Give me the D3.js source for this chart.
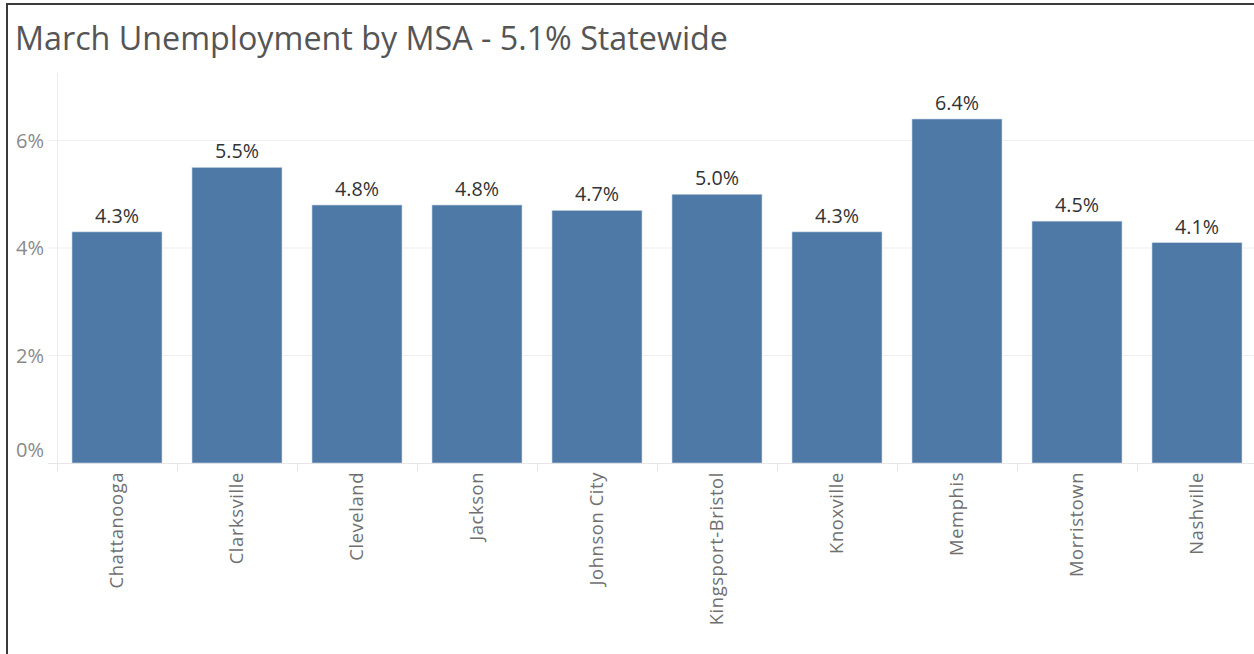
<!DOCTYPE html>
<html>
<head>
<meta charset="utf-8">
<script src="https://cdn.jsdelivr.net/npm/d3@7"></script>
<style>
  html, body { margin: 0; padding: 0; background: #fff; }
  svg { display: block; }
</style>
</head>
<body>
<svg id="chart" width="1254" height="654"></svg>
<script>
const titleText = "March Unemployment by MSA - 5.1% Statewide";
const categories = ["Chattanooga", "Clarksville", "Cleveland", "Jackson", "Johnson City",
  "Kingsport-Bristol", "Knoxville", "Memphis", "Morristown", "Nashville"];
const values = [4.3, 5.5, 4.8, 4.8, 4.7, 5.0, 4.3, 6.4, 4.5, 4.1];
const yTicks = [0, 2, 4, 6];

const svg = d3.select("#chart");
const font = "'Open Sans', 'Noto Sans', sans-serif";

// frame (right/bottom edges cut off)
svg.append("rect")
  .attr("x", 7).attr("y", 4).attr("width", 1300).attr("height", 700)
  .attr("fill", "none").attr("stroke", "#3a3a3a").attr("stroke-width", 2);

// measure helper: font size giving a target width for sample text
function sizeFor(text, target, ls) {
  const t = svg.append("text").attr("font-family", font).attr("font-size", 20)
    .attr("letter-spacing", ls || 0).text(text);
  const w = t.node().getComputedTextLength();
  t.remove();
  return (20 * target / w).toFixed(2);
}

// title
svg.append("text")
  .attr("x", 15).attr("y", 50)
  .attr("font-family", font).attr("font-size", sizeFor(titleText, 713))
  .attr("fill", "#555").text(titleText);

const plotLeft = 57, plotTop = 73, plotBottom = 463;
const x = d3.scaleBand().domain(categories).range([plotLeft, plotLeft + 1200]).paddingInner(0.25).paddingOuter(0.125);
const y = d3.scaleLinear().domain([0, 7.256]).range([plotBottom, plotTop]);

// gridlines
svg.append("g").selectAll("line").data(yTicks.filter(d => d > 0)).join("line")
  .attr("x1", 48).attr("x2", 1254)
  .attr("y1", d => y(d)).attr("y2", d => y(d))
  .attr("stroke", "#efefef").attr("stroke-width", 1);

// y axis vertical line
svg.append("line")
  .attr("x1", plotLeft + 0.5).attr("x2", plotLeft + 0.5)
  .attr("y1", plotTop).attr("y2", plotBottom + 8)
  .attr("stroke", "#ececec");

// baseline
svg.append("line")
  .attr("x1", 48).attr("x2", 1254)
  .attr("y1", plotBottom + 0.5).attr("y2", plotBottom + 0.5)
  .attr("stroke", "#e6e6e6");

// column ticks
const step = x.step();
svg.append("g").selectAll("line").data(categories).join("line")
  .attr("x1", d => x(d) - x.paddingOuter() * step + 0.5)
  .attr("x2", d => x(d) - x.paddingOuter() * step + 0.5)
  .attr("y1", plotBottom).attr("y2", plotBottom + 8)
  .attr("stroke", "#e6e6e6");

// y tick labels
const yFs = sizeFor("6%", 28);
svg.append("g").selectAll("text").data(yTicks).join("text")
  .attr("x", 44)
  .attr("y", d => d === 0 ? y(d) - 13 : y(d))
  .attr("dy", "0.35em")
  .attr("text-anchor", "end")
  .attr("font-family", font).attr("font-size", yFs)
  .attr("fill", "#8a8a8a")
  .text(d => d + "%");

// bars
svg.append("g").selectAll("rect").data(values).join("rect")
  .attr("x", (d, i) => x(categories[i]))
  .attr("y", d => y(d))
  .attr("width", x.bandwidth())
  .attr("height", d => plotBottom - y(d))
  .attr("fill", "#4e79a7")
  .attr("stroke", "#c9d6e6").attr("stroke-width", 0.6);

// value labels
const vFs = sizeFor("4.3%", 44);
svg.append("g").selectAll("text").data(values).join("text")
  .attr("x", (d, i) => x(categories[i]) + x.bandwidth() / 2)
  .attr("y", d => y(d) - 9)
  .attr("text-anchor", "middle")
  .attr("font-family", font).attr("font-size", vFs)
  .attr("fill", "#333")
  .text(d => d.toFixed(1) + "%");

// x labels rotated
const xFs = sizeFor("Chattanooga", 116, 0.6);
svg.append("g").selectAll("text").data(categories).join("text")
  .attr("transform", d => `translate(${x(d) + x.bandwidth() / 2},472) rotate(-90)`)
  .attr("dy", "0.35em")
  .attr("text-anchor", "end")
  .attr("font-family", font).attr("font-size", xFs)
  .attr("fill", "#707070")
  .attr("letter-spacing", 0.6)
  .text(d => d);
</script>
</body>
</html>
